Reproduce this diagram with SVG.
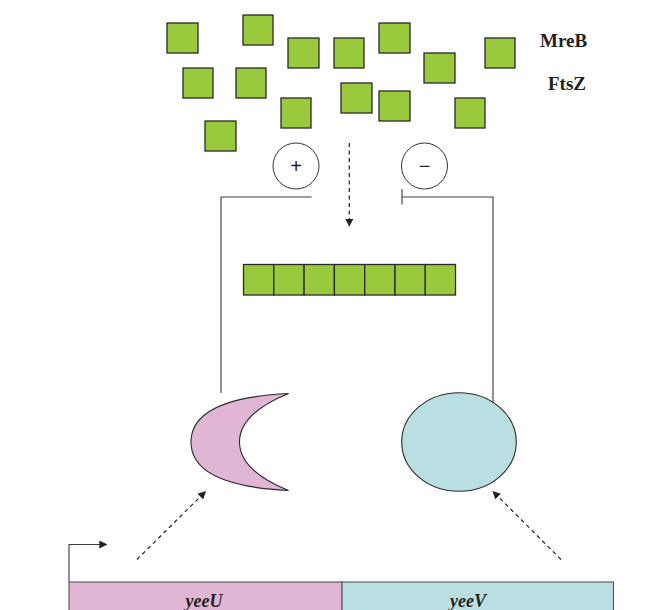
<svg xmlns="http://www.w3.org/2000/svg" width="664" height="610" viewBox="0 0 664 610">
  <defs>
    <style>
      .mono { fill: #99c93d; stroke: #2a2a2a; stroke-width: 1.3; }
      .line { fill: none; stroke: #3a3a3a; stroke-width: 1.1; }
      .dash { fill: none; stroke: #222; stroke-width: 1.2; stroke-dasharray: 4 3.5; }
      .sign { fill: #fff; stroke: #333; stroke-width: 1; }
      .label { font-family: "Liberation Serif", serif; font-weight: bold; font-size: 19px; fill: #231f20; }
      .gene { font-family: "Liberation Serif", serif; font-weight: bold; font-style: italic; font-size: 18px; fill: #231f20; text-anchor: middle; }
      .sym { font-family: "Liberation Sans", sans-serif; font-size: 20px; fill: #222; text-anchor: middle; }
    </style>
    <marker id="head" viewBox="0 0 10 10" refX="9" refY="5" markerWidth="8" markerHeight="8" markerUnits="userSpaceOnUse" orient="auto">
      <path d="M0,0 L10,5 L0,10 z" fill="#222"/>
    </marker>
  </defs>

  <!-- free monomers -->
  <g id="monomers">
    <rect class="mono" x="167" y="23" width="31" height="30"/>
    <rect class="mono" x="243" y="15" width="30" height="30"/>
    <rect class="mono" x="288" y="38" width="31" height="30"/>
    <rect class="mono" x="334" y="38" width="30" height="30"/>
    <rect class="mono" x="183" y="68" width="30" height="30"/>
    <rect class="mono" x="236" y="68" width="30" height="30"/>
    <rect class="mono" x="281" y="98" width="30" height="30"/>
    <rect class="mono" x="205" y="121" width="31" height="30"/>
    <rect class="mono" x="379" y="23" width="31" height="30"/>
    <rect class="mono" x="424" y="53" width="31" height="30"/>
    <rect class="mono" x="485" y="38" width="30" height="30"/>
    <rect class="mono" x="341" y="83" width="31" height="30"/>
    <rect class="mono" x="379" y="91" width="31" height="30"/>
    <rect class="mono" x="455" y="98" width="30" height="30"/>
  </g>

  <g id="labels">
    <text class="label" x="540" y="47">MreB</text>
    <text class="label" x="548" y="90">FtsZ</text>
  </g>

  <!-- polymer filament -->
  <g id="filament">
    <rect class="mono" x="243.5" y="264.5" width="30.3" height="30.5"/>
    <rect class="mono" x="273.8" y="264.5" width="30.3" height="30.5"/>
    <rect class="mono" x="304.1" y="264.5" width="30.3" height="30.5"/>
    <rect class="mono" x="334.4" y="264.5" width="30.3" height="30.5"/>
    <rect class="mono" x="364.7" y="264.5" width="30.3" height="30.5"/>
    <rect class="mono" x="395" y="264.5" width="30.3" height="30.5"/>
    <rect class="mono" x="425.3" y="264.5" width="30.2" height="30.5"/>
  </g>

  <g id="plus">
    <circle class="sign" cx="296" cy="166" r="23"/>
    <text class="sym" x="296" y="173">+</text>
  </g>
  <g id="minus">
    <circle class="sign" cx="424.5" cy="166" r="23"/>
    <text class="sym" x="424.5" y="173">−</text>
  </g>

  <g id="yeeU-protein">
    <path d="M288.5,393.5 C218,397 191,416 191,442 C191,468 218,487 288.5,490.5 C258,478 239.5,462 239.5,442 C239.5,422 258,406 288.5,393.5 Z" fill="#e1b5d4" stroke="#2a2a2a" stroke-width="1.1"/>
  </g>

  <g id="yeeV-protein">
    <ellipse cx="459" cy="442" rx="57.3" ry="49.3" fill="#b9dfe2" stroke="#2a2a2a" stroke-width="1.1"/>
  </g>

  <g id="operon">
    <rect x="69" y="582" width="273" height="40" fill="#e1b5d4" stroke="#555" stroke-width="1.1"/>
    <rect x="342" y="582" width="271.5" height="40" fill="#b9dfe2" stroke="#555" stroke-width="1.1"/>
    <text class="gene" x="204" y="607">yeeU</text>
    <text class="gene" x="468" y="607">yeeV</text>
  </g>

  <g id="connectors">
    <!-- polymerisation -->
    <line class="dash" x1="349.3" y1="143" x2="349.3" y2="226" marker-end="url(#head)"/>
    <!-- activation by YeeU -->
    <polyline class="line" points="221,393 221,197 311.5,197"/>
    <!-- inhibition by YeeV -->
    <polyline class="line" points="493,403 493,197 402,197"/>
    <line class="line" x1="402" y1="189" x2="402" y2="204.5"/>
    <!-- translation -->
    <line class="dash" x1="137" y1="559.5" x2="205.5" y2="491.5" marker-end="url(#head)"/>
    <line class="dash" x1="561" y1="559.5" x2="493" y2="491.5" marker-end="url(#head)"/>
    <!-- promoter -->
    <polyline class="line" points="69,582 69,544.5 106.5,544.5" stroke="#111" marker-end="url(#head)"/>
  </g>
</svg>
